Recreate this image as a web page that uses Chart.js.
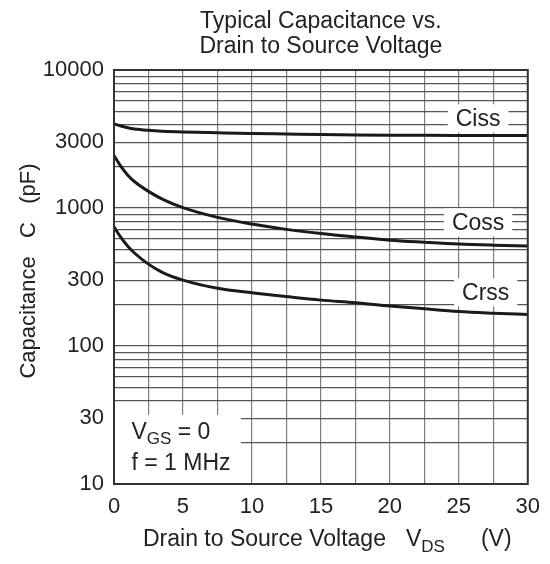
<!DOCTYPE html>
<html>
<head>
<meta charset="utf-8">
<script src="https://cdn.jsdelivr.net/npm/chart.js@4"></script>
<style>
  body { margin: 0; background: #fff; }
  #wrap { width: 550px; height: 564px; }
</style>
</head>
<body>
<div id="wrap"><canvas id="capChart" width="550" height="564"></canvas></div>
<script>
// Values
const vds  = [0, 0.5, 1, 1.5, 2.5, 3.5, 5, 7.5, 10, 12.5, 15, 17.5, 20, 22.5, 25, 27.5, 30];
const ciss = [4070, 3925, 3810, 3735, 3655, 3605, 3560, 3510, 3465, 3435, 3405, 3385, 3370, 3360, 3355, 3350, 3350];
const coss = [2400, 2000, 1730, 1550, 1320, 1160, 1005, 855, 765, 700, 653, 617, 585, 565, 548, 538, 531];
const crss = [730, 612, 528, 470, 392, 342, 300, 262, 243, 228, 215, 206, 195, 186, 178, 173, 169];

const yTickLabels = [10, 30, 100, 300, 1000, 3000, 10000];
const xTickLabels = [0, 5, 10, 15, 20, 25, 30];

// curve name tags, placed in data units (V, pF)
const tagNames = ["Ciss", "Coss", "Crss"];
const tagV = [26.4, 26.4, 26.95];
const tagC = [4460, 788, 245];

const FONT = "'Liberation Sans', Arial, Helvetica, sans-serif";
const INK = "#222";

// 1..9 x 10^k gridlines over the 10..10000 range
const yGrid = [];
for (let e = 1; e <= 3; e++) {
  for (let m = 1; m <= 9; m++) yGrid.push(m * Math.pow(10, e));
}
yGrid.push(10000);

function toPoints(vals) {
  return vals.map((c, i) => ({ x: vds[i], y: c }));
}

const overlay = {
  id: "overlay",
  afterDatasetsDraw(chart) {
    const { ctx, chartArea: a, scales: { x, y } } = chart;
    ctx.save();

    // curve tags with white backing
    ctx.font = "23px " + FONT;
    ctx.textAlign = "center";
    ctx.textBaseline = "middle";
    tagNames.forEach((t, i) => {
      const px = x.getPixelForValue(tagV[i]);
      const py = y.getPixelForValue(tagC[i]);
      const w = ctx.measureText(t).width;
      ctx.fillStyle = "#fff";
      ctx.fillRect(px - w / 2 - 8, py - 14, w + 16, 28);
      ctx.fillStyle = INK;
      ctx.fillText(t, px, py + 1);
    });

    // test condition box
    const bl = x.getPixelForValue(0);
    const br = x.getPixelForValue(9.2);
    const bt = y.getPixelForValue(31.6);
    const bb = y.getPixelForValue(10);
    ctx.fillStyle = "#fff";
    ctx.fillRect(bl, bt, br - bl, bb - bt);
    ctx.fillStyle = INK;
    ctx.textAlign = "left";
    ctx.textBaseline = "alphabetic";
    let tx = bl + 17.5;
    ctx.font = "23px " + FONT;
    ctx.fillText("V", tx, bt + 23.5);
    tx += ctx.measureText("V").width;
    ctx.font = "17px " + FONT;
    ctx.fillText("GS", tx, bt + 29);
    tx += ctx.measureText("GS").width;
    ctx.font = "23px " + FONT;
    ctx.fillText(" = 0", tx, bt + 23.5);
    ctx.fillText("f = 1 MHz", bl + 17.5, bt + 55);

    // plot frame
    ctx.strokeStyle = "#333";
    ctx.lineWidth = 2;
    ctx.strokeRect(a.left, a.top, a.right - a.left, a.bottom - a.top);
    ctx.restore();
  },
  afterDraw(chart) {
    const { ctx, chartArea: a } = chart;
    ctx.save();
    ctx.fillStyle = INK;

    // title
    ctx.font = "23px " + FONT;
    ctx.textAlign = "center";
    ctx.textBaseline = "alphabetic";
    const cx = (a.left + a.right) / 2;
    ctx.fillText("Typical Capacitance vs.", cx, 28);
    ctx.fillText("Drain to Source Voltage", cx, 53);

    // x axis title with subscript
    ctx.textAlign = "left";
    let tx = 143;
    const by = 546;
    ctx.fillText("Drain to Source Voltage", tx, by);
    tx += ctx.measureText("Drain to Source Voltage").width + 20;
    ctx.fillText("V", tx, by);
    tx += ctx.measureText("V").width;
    ctx.font = "17px " + FONT;
    ctx.fillText("DS", tx, by + 6);
    tx += ctx.measureText("DS").width + 36;
    ctx.font = "23px " + FONT;
    ctx.fillText("(V)", tx, by);

    // y axis title
    ctx.font = "22px " + FONT;
    ctx.translate(35, 271);
    ctx.rotate(-Math.PI / 2);
    ctx.textAlign = "center";
    ctx.fillText("Capacitance   C   (pF)", 0, 0);
    ctx.restore();
  }
};

const lineStyle = {
  borderColor: "#1a1a1a",
  borderWidth: 3,
  pointRadius: 0,
  fill: false,
  cubicInterpolationMode: "monotone"
};

new Chart(document.getElementById("capChart").getContext("2d"), {
  type: "line",
  data: {
    datasets: [
      { label: "Ciss", data: toPoints(ciss), ...lineStyle },
      { label: "Coss", data: toPoints(coss), ...lineStyle },
      { label: "Crss", data: toPoints(crss), ...lineStyle }
    ]
  },
  options: {
    responsive: false,
    animation: false,
    devicePixelRatio: 1,
    layout: { padding: { top: 70, right: 22, left: 0, bottom: 0 } },
    plugins: {
      legend: { display: false },
      tooltip: { enabled: false }
    },
    scales: {
      x: {
        type: "linear",
        min: 0,
        max: 30,
        border: { display: false },
        grid: { color: "#7d7d7d", lineWidth: 1.2, drawTicks: false },
        ticks: {
          stepSize: 2.5,
          autoSkip: false,
          maxRotation: 0,
          padding: 10,
          color: INK,
          font: { family: FONT, size: 22 },
          callback: (v) => (xTickLabels.includes(v) ? String(v) : "")
        },
        afterFit: (s) => { s.height = 80; }
      },
      y: {
        type: "logarithmic",
        min: 10,
        max: 10000,
        border: { display: false },
        grid: { color: "#555", lineWidth: 1.2, drawTicks: false },
        afterBuildTicks: (s) => { s.ticks = yGrid.map((v) => ({ value: v })); },
        ticks: {
          autoSkip: false,
          padding: 10,
          color: INK,
          font: { family: FONT, size: 22 },
          callback: (v) => (yTickLabels.includes(v) ? String(v) : "")
        },
        afterFit: (s) => { s.width = 114; }
      }
    }
  },
  plugins: [overlay]
});
</script>
</body>
</html>
